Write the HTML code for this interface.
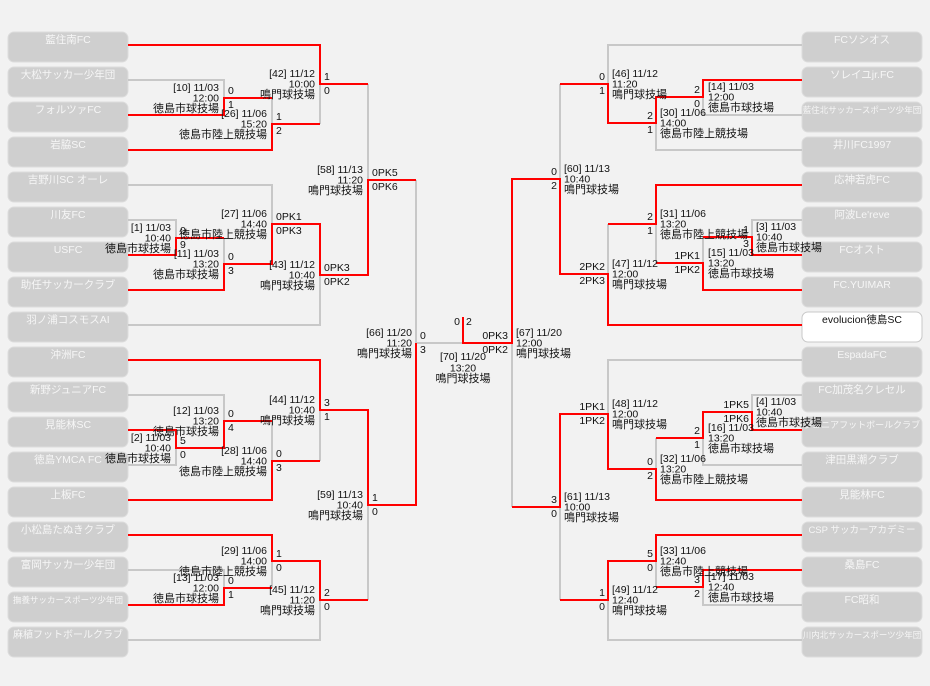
<!DOCTYPE html>
<html><head><meta charset="utf-8"><style>
html,body{margin:0;padding:0;background:#f2f2f2;}
svg{display:block;}
text{font-family:"Liberation Sans","Noto Sans CJK JP",sans-serif;font-size:10.5px;fill:#111;}
.t{fill:#f6f6f6;font-size:10.5px;text-anchor:middle;}
.e{text-anchor:end;}
.m{text-anchor:middle;}
.v{font-size:11px;}
</style></head><body>
<svg width="930" height="686" viewBox="0 0 930 686" xmlns="http://www.w3.org/2000/svg">
<rect width="930" height="686" fill="#f2f2f2"/>
<g fill="#cfcfcf" stroke="#dcdcdc" stroke-width="1">
<rect x="8" y="32" width="120" height="30" rx="6"/><rect x="8" y="67" width="120" height="30" rx="6"/><rect x="8" y="102" width="120" height="30" rx="6"/><rect x="8" y="137" width="120" height="30" rx="6"/><rect x="8" y="172" width="120" height="30" rx="6"/><rect x="8" y="207" width="120" height="30" rx="6"/><rect x="8" y="242" width="120" height="30" rx="6"/><rect x="8" y="277" width="120" height="30" rx="6"/><rect x="8" y="312" width="120" height="30" rx="6"/><rect x="8" y="347" width="120" height="30" rx="6"/><rect x="8" y="382" width="120" height="30" rx="6"/><rect x="8" y="417" width="120" height="30" rx="6"/><rect x="8" y="452" width="120" height="30" rx="6"/><rect x="8" y="487" width="120" height="30" rx="6"/><rect x="8" y="522" width="120" height="30" rx="6"/><rect x="8" y="557" width="120" height="30" rx="6"/><rect x="8" y="592" width="120" height="30" rx="6"/><rect x="8" y="627" width="120" height="30" rx="6"/>
<rect x="802" y="32" width="120" height="30" rx="6"/><rect x="802" y="67" width="120" height="30" rx="6"/><rect x="802" y="102" width="120" height="30" rx="6"/><rect x="802" y="137" width="120" height="30" rx="6"/><rect x="802" y="172" width="120" height="30" rx="6"/><rect x="802" y="207" width="120" height="30" rx="6"/><rect x="802" y="242" width="120" height="30" rx="6"/><rect x="802" y="277" width="120" height="30" rx="6"/><rect x="802" y="312" width="120" height="30" rx="6" fill="#ffffff" stroke="#c8c8c8"/><rect x="802" y="347" width="120" height="30" rx="6"/><rect x="802" y="382" width="120" height="30" rx="6"/><rect x="802" y="417" width="120" height="30" rx="6"/><rect x="802" y="452" width="120" height="30" rx="6"/><rect x="802" y="487" width="120" height="30" rx="6"/><rect x="802" y="522" width="120" height="30" rx="6"/><rect x="802" y="557" width="120" height="30" rx="6"/><rect x="802" y="592" width="120" height="30" rx="6"/><rect x="802" y="627" width="120" height="30" rx="6"/>
</g>
<g>
<text class="t" x="68" y="43">藍住南FC</text><text class="t" x="68" y="78">大松サッカー少年団</text><text class="t" x="68" y="113">フォルツァFC</text><text class="t" x="68" y="148">岩脇SC</text><text class="t" x="68" y="183">吉野川SC オーレ</text><text class="t" x="68" y="218">川友FC</text><text class="t" x="68" y="253">USFC</text><text class="t" x="68" y="288">助任サッカークラブ</text><text class="t" x="68" y="323">羽ノ浦コスモスAI</text><text class="t" x="68" y="358">沖洲FC</text><text class="t" x="68" y="393">新野ジュニアFC</text><text class="t" x="68" y="428">見能林SC</text><text class="t" x="68" y="463">徳島YMCA FC</text><text class="t" x="68" y="498">上板FC</text><text class="t" x="68" y="533">小松島たぬきクラブ</text><text class="t" x="68" y="568">富岡サッカー少年団</text><text class="t" x="68" y="603" style="font-size:8.5px">撫養サッカースポーツ少年団</text><text class="t" x="68" y="638" style="font-size:10px">麻植フットボールクラブ</text>
<text class="t" x="862" y="43">FCソシオス</text><text class="t" x="862" y="78">ソレイユjr.FC</text><text class="t" x="862" y="113" style="font-size:8.5px">藍住北サッカースポーツ少年団</text><text class="t" x="862" y="148">井川FC1997</text><text class="t" x="862" y="183">応神若虎FC</text><text class="t" x="862" y="218">阿波Le'reve</text><text class="t" x="862" y="253">FCオスト</text><text class="t" x="862" y="288">FC.YUIMAR</text><text class="t" x="862" y="323" style="fill:#111">evolucion徳島SC</text><text class="t" x="862" y="358">EspadaFC</text><text class="t" x="862" y="393">FC加茂名クレセル</text><text class="t" x="862" y="428" style="font-size:9px">ジュニアフットボールクラブ</text><text class="t" x="862" y="463">津田黒潮クラブ</text><text class="t" x="862" y="498">見能林FC</text><text class="t" x="862" y="533" style="font-size:9.5px">CSP サッカーアカデミー</text><text class="t" x="862" y="568">桑島FC</text><text class="t" x="862" y="603">FC昭和</text><text class="t" x="862" y="638" style="font-size:8.5px">川内北サッカースポーツ少年団</text>
</g>
<g fill="none" stroke="#c8c8c8" stroke-width="2">
<path d="M128 80H224V98 M272 98V124 M320 84V124 M128 220H176V238 M224 238V264 M128 185H272V224 M128 325H320V275 M368 84V180 M128 395H224V421 M272 421V461 M320 410V461 M128 465H176V448 M128 570H224V588 M272 561V588 M128 640H320V600 M368 505V600 M416 180V343H463"/>
<path d="M802 45H608V84 M802 115H703V97 M656 123V150H802 M802 220H752V237 M703 237V263 M656 224V263 M608 224V274 M560 84V179 M802 395H752V412 M703 438V465H802 M656 438V469 M802 360H608V414 M703 587V605H802 M656 561V587 M608 600V640H802 M560 507V600 M512 343V507"/>
</g>
<g fill="none" stroke="#ff0000" stroke-width="2">
<path d="M128 45H320V84H368 M128 115H224V98H272 M128 150H272V124H320 M128 255H176V238H224 M128 290H224V264H272V224H320V275H368V180H416 M128 430H176V448H224V421H272 M128 500H272V461H320 M128 360H320V410H368V505H416V343 M128 535H272V561H320V600H368 M128 605H224V588H272"/>
<path d="M463 317V343H512V179H560V274H608V325H802 M802 80H703V97H656V123H608V84H560 M802 185H656V224H608 M802 255H752V237H703 M802 290H703V263H656 M802 430H752V412H703V438H656 M802 500H656V469H608V414H560V507H512 M802 535H656V561H608V600H560 M802 570H703V587H656"/>
</g>
<g>
<text class="e" x="219" y="91">[10] 11/03</text><text class="e" x="219" y="101.5">12:00</text><text class="e v" x="219" y="112">徳島市球技場</text>
<text class="e" x="267" y="117">[26] 11/06</text><text class="e" x="267" y="127.5">15:20</text><text class="e v" x="267" y="138">徳島市陸上競技場</text>
<text class="e" x="315" y="77">[42] 11/12</text><text class="e" x="315" y="87.5">10:00</text><text class="e v" x="315" y="98">鳴門球技場</text>
<text class="e" x="171" y="231">[1] 11/03</text><text class="e" x="171" y="241.5">10:40</text><text class="e v" x="171" y="252">徳島市球技場</text>
<text class="e" x="219" y="257">[11] 11/03</text><text class="e" x="219" y="267.5">13:20</text><text class="e v" x="219" y="278">徳島市球技場</text>
<text class="e" x="267" y="217">[27] 11/06</text><text class="e" x="267" y="227.5">14:40</text><text class="e v" x="267" y="238">徳島市陸上競技場</text>
<text class="e" x="315" y="268">[43] 11/12</text><text class="e" x="315" y="278.5">10:40</text><text class="e v" x="315" y="289">鳴門球技場</text>
<text class="e" x="363" y="173">[58] 11/13</text><text class="e" x="363" y="183.5">11:20</text><text class="e v" x="363" y="194">鳴門球技場</text>
<text class="e" x="171" y="441">[2] 11/03</text><text class="e" x="171" y="451.5">10:40</text><text class="e v" x="171" y="462">徳島市球技場</text>
<text class="e" x="219" y="414">[12] 11/03</text><text class="e" x="219" y="424.5">13:20</text><text class="e v" x="219" y="435">徳島市球技場</text>
<text class="e" x="267" y="454">[28] 11/06</text><text class="e" x="267" y="464.5">14:40</text><text class="e v" x="267" y="475">徳島市陸上競技場</text>
<text class="e" x="315" y="403">[44] 11/12</text><text class="e" x="315" y="413.5">10:40</text><text class="e v" x="315" y="424">鳴門球技場</text>
<text class="e" x="219" y="581">[13] 11/03</text><text class="e" x="219" y="591.5">12:00</text><text class="e v" x="219" y="602">徳島市球技場</text>
<text class="e" x="267" y="554">[29] 11/06</text><text class="e" x="267" y="564.5">14:00</text><text class="e v" x="267" y="575">徳島市陸上競技場</text>
<text class="e" x="315" y="593">[45] 11/12</text><text class="e" x="315" y="603.5">11:20</text><text class="e v" x="315" y="614">鳴門球技場</text>
<text class="e" x="363" y="498">[59] 11/13</text><text class="e" x="363" y="508.5">10:40</text><text class="e v" x="363" y="519">鳴門球技場</text>
<text class="e" x="412" y="336">[66] 11/20</text><text class="e" x="412" y="346.5">11:20</text><text class="e v" x="412" y="357">鳴門球技場</text>
<text x="228" y="94">0</text><text x="228" y="108">1</text>
<text x="276" y="120">1</text><text x="276" y="134">2</text>
<text x="324" y="80">1</text><text x="324" y="94">0</text>
<text x="180" y="234">0</text><text x="180" y="248">9</text>
<text x="228" y="260">0</text><text x="228" y="274">3</text>
<text x="276" y="220">0PK1</text><text x="276" y="234">0PK3</text>
<text x="324" y="271">0PK3</text><text x="324" y="285">0PK2</text>
<text x="372" y="176">0PK5</text><text x="372" y="190">0PK6</text>
<text x="180" y="444">5</text><text x="180" y="458">0</text>
<text x="228" y="417">0</text><text x="228" y="431">4</text>
<text x="276" y="457">0</text><text x="276" y="471">3</text>
<text x="324" y="406">3</text><text x="324" y="420">1</text>
<text x="228" y="584">0</text><text x="228" y="598">1</text>
<text x="276" y="557">1</text><text x="276" y="571">0</text>
<text x="324" y="596">2</text><text x="324" y="610">0</text>
<text x="372" y="501">1</text><text x="372" y="515">0</text>
<text x="420" y="339">0</text><text x="420" y="353">3</text>
<text class="e" x="460" y="325">0</text><text x="466" y="325">2</text>
<text class="m" x="463" y="360">[70] 11/20</text><text class="m" x="463" y="371.5">13:20</text><text class="m v" x="463" y="382">鳴門球技場</text>
<text x="708" y="90">[14] 11/03</text><text x="708" y="100.5">12:00</text><text class="v" x="708" y="111">徳島市球技場</text>
<text x="660" y="116">[30] 11/06</text><text x="660" y="126.5">14:00</text><text class="v" x="660" y="137">徳島市陸上競技場</text>
<text x="612" y="77">[46] 11/12</text><text x="612" y="87.5">11:20</text><text class="v" x="612" y="98">鳴門球技場</text>
<text x="756" y="230">[3] 11/03</text><text x="756" y="240.5">10:40</text><text class="v" x="756" y="251">徳島市球技場</text>
<text x="708" y="256">[15] 11/03</text><text x="708" y="266.5">13:20</text><text class="v" x="708" y="277">徳島市球技場</text>
<text x="660" y="217">[31] 11/06</text><text x="660" y="227.5">13:20</text><text class="v" x="660" y="238">徳島市陸上競技場</text>
<text x="612" y="267">[47] 11/12</text><text x="612" y="277.5">12:00</text><text class="v" x="612" y="288">鳴門球技場</text>
<text x="564" y="172">[60] 11/13</text><text x="564" y="182.5">10:40</text><text class="v" x="564" y="193">鳴門球技場</text>
<text x="756" y="405">[4] 11/03</text><text x="756" y="415.5">10:40</text><text class="v" x="756" y="426">徳島市球技場</text>
<text x="708" y="431">[16] 11/03</text><text x="708" y="441.5">13:20</text><text class="v" x="708" y="452">徳島市球技場</text>
<text x="660" y="462">[32] 11/06</text><text x="660" y="472.5">13:20</text><text class="v" x="660" y="483">徳島市陸上競技場</text>
<text x="612" y="407">[48] 11/12</text><text x="612" y="417.5">12:00</text><text class="v" x="612" y="428">鳴門球技場</text>
<text x="708" y="580">[17] 11/03</text><text x="708" y="590.5">12:40</text><text class="v" x="708" y="601">徳島市球技場</text>
<text x="660" y="554">[33] 11/06</text><text x="660" y="564.5">12:40</text><text class="v" x="660" y="575">徳島市陸上競技場</text>
<text x="612" y="593">[49] 11/12</text><text x="612" y="603.5">12:40</text><text class="v" x="612" y="614">鳴門球技場</text>
<text x="564" y="500">[61] 11/13</text><text x="564" y="510.5">10:00</text><text class="v" x="564" y="521">鳴門球技場</text>
<text x="516" y="336">[67] 11/20</text><text x="516" y="346.5">12:00</text><text class="v" x="516" y="357">鳴門球技場</text>
<text class="e" x="700" y="93">2</text><text class="e" x="700" y="107">0</text>
<text class="e" x="653" y="119">2</text><text class="e" x="653" y="133">1</text>
<text class="e" x="605" y="80">0</text><text class="e" x="605" y="94">1</text>
<text class="e" x="749" y="233">1</text><text class="e" x="749" y="247">3</text>
<text class="e" x="700" y="259">1PK1</text><text class="e" x="700" y="273">1PK2</text>
<text class="e" x="653" y="220">2</text><text class="e" x="653" y="234">1</text>
<text class="e" x="605" y="270">2PK2</text><text class="e" x="605" y="284">2PK3</text>
<text class="e" x="557" y="175">0</text><text class="e" x="557" y="189">2</text>
<text class="e" x="749" y="408">1PK5</text><text class="e" x="749" y="422">1PK6</text>
<text class="e" x="700" y="434">2</text><text class="e" x="700" y="448">1</text>
<text class="e" x="653" y="465">0</text><text class="e" x="653" y="479">2</text>
<text class="e" x="605" y="410">1PK1</text><text class="e" x="605" y="424">1PK2</text>
<text class="e" x="700" y="583">3</text><text class="e" x="700" y="597">2</text>
<text class="e" x="653" y="557">5</text><text class="e" x="653" y="571">0</text>
<text class="e" x="605" y="596">1</text><text class="e" x="605" y="610">0</text>
<text class="e" x="557" y="503">3</text><text class="e" x="557" y="517">0</text>
<text class="e" x="508" y="339">0PK3</text><text class="e" x="508" y="353">0PK2</text>
</g>
</svg>
</body></html>
